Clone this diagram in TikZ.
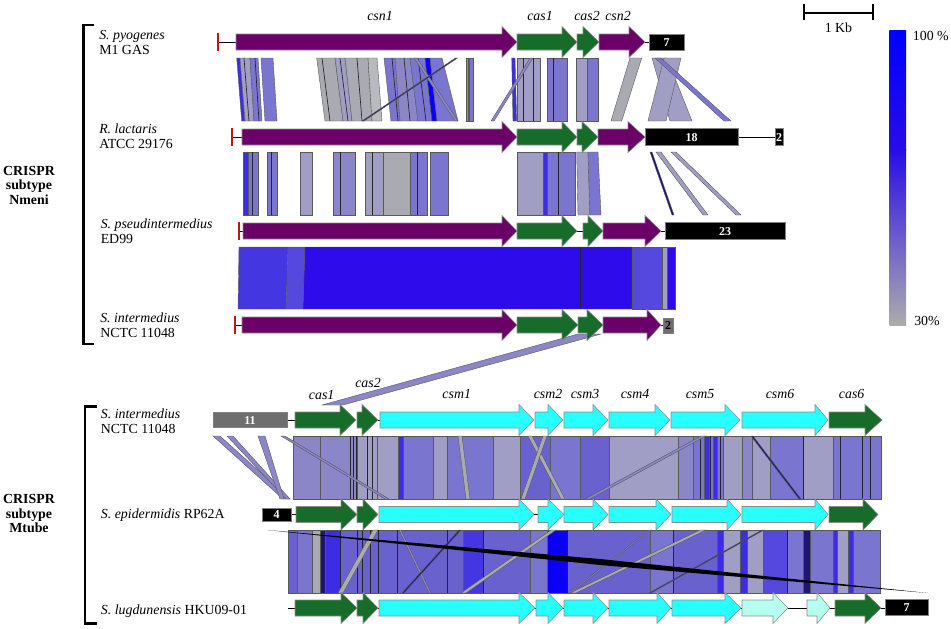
\documentclass[tikz,border=0pt]{standalone}
\usepackage{fontspec}
\setmainfont{Liberation Serif}
\definecolor{gpurple}{RGB}{106,0,104}
\definecolor{ggreen}{RGB}{22,108,40}
\definecolor{gcyan}{RGB}{40,255,255}
\definecolor{glcyan}{RGB}{180,255,240}
\definecolor{gred}{RGB}{200,20,20}
\definecolor{boxgray}{RGB}{110,110,110}
\definecolor{lav}{RGB}{138,134,200}
\definecolor{lav2}{RGB}{122,118,208}
\definecolor{lavg}{RGB}{160,158,196}
\definecolor{gry}{RGB}{170,170,178}
\definecolor{gryl}{RGB}{185,185,192}
\definecolor{blu}{RGB}{60,45,228}
\definecolor{deep}{RGB}{46,11,235}
\definecolor{pb}{RGB}{105,98,206}
\definecolor{bright}{RGB}{10,0,250}
\definecolor{navy}{RGB}{30,20,120}
\definecolor{rA}{RGB}{68,55,225}
\definecolor{rB}{RGB}{85,72,222}
\definecolor{legmid}{RGB}{40,12,232}
\definecolor{leggray}{RGB}{172,172,172}
\newcommand\genearr[5]{\filldraw[genestyle,fill=#1] (#2,#5-8) -- (#3,#5-8) -- (#3,#5-15.5) -- (#4,#5) -- (#3,#5+15.5) -- (#3,#5+8) -- (#2,#5+8) -- cycle;}
\newcommand\bn[5]{\filldraw[bandstyle,fill=#1] (#2,\BandTop) -- (#3,\BandTop) -- (#5,\BandBot) -- (#4,\BandBot) -- cycle;}
\newcommand\st[3]{\filldraw[bandstyle,fill=#1] (#2,\BandTop) rectangle (#3,\BandBot);}
\newcommand\dl[1]{\draw[black!85,line width=0.5pt] (#1,\BandTop) -- (#1,\BandBot);}
\newcommand\slantline[2]{\draw[black!85,line width=0.5pt] (#1,\BandTop) -- (#2,\BandBot);}
\newcommand\redbar[2]{\draw[gred,line width=2pt] (#1,#2-9) -- (#1,#2+9);}
\begin{document}
\begin{tikzpicture}[x=0.75pt,y=-0.75pt,
  genestyle/.style={draw=black!45,line width=0.4pt},
  bandstyle/.style={draw=black!65,line width=0.3pt},
  backbone/.style={draw=black,line width=0.7pt},
  lab/.style={inner sep=0pt,anchor=base west,font=\fontsize{10.4}{11}\selectfont},
  crl/.style={inner sep=0pt,anchor=base,font=\fontsize{10.4}{11}\selectfont\bfseries},
  gl/.style={inner sep=0pt,anchor=base,font=\fontsize{10.4}{11}\selectfont\itshape},
  numw/.style={inner sep=0pt,text=white,font=\fontsize{9}{9}\selectfont\bfseries},
  numk/.style={inner sep=0pt,text=black,font=\fontsize{9}{9}\selectfont\bfseries},
  boxstyle/.style={draw=black!50,line width=0.4pt},
  bracket/.style={draw=black,line width=2.2pt}]
\useasboundingbox (0,0) rectangle (951,629);

% ---------------- brackets and group labels
\draw[bracket] (94,25) -- (83.3,25) -- (83.3,344) -- (94,344);
\draw[bracket] (96.7,406.7) -- (85,406.7) -- (85,623.3) -- (96.7,623.3);
\node[crl] (c1a) at (29,175) {CRISPR};
\node[crl] (c1b) at (29,189.5) {subtype};
\node[crl] (c1c) at (29,204) {Nmeni};
\node[crl] (c2a) at (29,503.5) {CRISPR};
\node[crl] (c2b) at (29,518) {subtype};
\node[crl] (c2c) at (29,532.5) {Mtube};

% ---------------- strain labels
\node[lab] (l1a) at (99,39.5) {\textit{S. pyogenes}};
\node[lab] (l1b) at (99,54) {M1 GAS};
\node[lab] (l2a) at (99,133.5) {\textit{R. lactaris}};
\node[lab] (l2b) at (99,148) {ATCC 29176};
\node[lab] (l3a) at (100.5,228.5) {\textit{S. pseudintermedius}};
\node[lab] (l3b) at (100.5,243) {ED99};
\node[lab] (l4a) at (100,322.5) {\textit{S. intermedius}};
\node[lab] (l4b) at (100,337) {NCTC 11048};
\node[lab] (l5a) at (100.7,418.5) {\textit{S. intermedius}};
\node[lab] (l5b) at (100.7,433) {NCTC 11048};
\node[lab] (l6) at (100.7,518.5) {\textit{S. epidermidis} RP62A};
\node[lab] (l7) at (100.7,614) {\textit{S. lugdunensis} HKU09-01};

% ---------------- gene labels
\node[gl] (g1) at (380,20.5) {csn1};
\node[gl] (g2) at (540,20.5) {cas1};
\node[gl] (g3) at (587,20.5) {cas2};
\node[gl] (g4) at (618,20.5) {csn2};
\node[gl] (h1) at (321.7,399.5) {cas1};
\node[gl] (h2) at (368,387) {cas2};
\node[gl] (h3) at (456.7,398.5) {csm1};
\node[gl] (h4) at (548,398.5) {csm2};
\node[gl] (h5) at (585,398.5) {csm3};
\node[gl] (h6) at (635,398.5) {csm4};
\node[gl] (h7) at (700,398.5) {csm5};
\node[gl] (h8) at (780,398.5) {csm6};
\node[gl] (h9) at (851.7,398.5) {cas6};

% ---------------- band 1-2
\def\BandTop{58}\def\BandBot{121}
\bn{blu}{236.7}{240}{241.7}{245}
\bn{lavg}{240}{250}{245}{254}
\bn{lav2}{250}{258}{254}{262}
\bn{lav2}{261}{273}{265}{277}
\slantline{244}{249}\slantline{255}{259}
\bn{gry}{316.7}{335}{325}{343}
\bn{lavg}{335}{345}{343}{352}
\bn{gry}{345}{368}{352}{372}
\bn{gryl}{368}{377}{372}{382}
\slantline{322}{330}\slantline{340}{348}\slantline{357}{362}
\bn{lav2}{384}{395}{391}{400}
\bn{lav}{395}{410}{400}{418}
\bn{lav2}{410}{425}{418}{432}
\bn{bright}{425}{430}{432}{437}
\bn{lav2}{430}{442}{437}{458}
\slantline{392}{398}\slantline{404}{410}\slantline{418}{426}
\bn{lav}{414}{417}{455}{458}
\bn{navy}{455.5}{457.5}{362}{364}
\bn{lav}{466}{468}{466}{468}
\bn{lav2}{469}{473}{469}{473}
\bn{blu}{511.7}{515}{513}{516.7}
\st{lavg}{516.7}{540}
\dl{523}\dl{533}
\bn{lav}{530}{533}{491}{494}
\st{lav2}{546.7}{566.7}
\dl{553}
\st{lavg}{576}{586.7}
\st{lav2}{586.7}{598.3}
\bn{gry}{630}{641.7}{611}{621.7}
\bn{lavg}{652}{667}{670}{692}
\bn{lavg}{664}{681}{648}{666}
\bn{lav2}{655}{661}{724}{731}

% ---------------- band 2-3
\def\BandTop{152}\def\BandBot{215}
\st{blu}{243}{248}
\st{lav2}{248}{258}
\dl{252}
\st{lav2}{266.7}{276.7}
\dl{271}
\st{lavg}{300}{311.7}
\st{lav}{333}{355}
\dl{340}
\st{lavg}{365}{383}
\dl{372}
\st{gry}{383}{410}
\st{lav2}{410}{427}
\dl{417}
\st{lav2}{430}{448}
\st{lavg}{516.7}{543}
\st{blu}{543}{547}
\st{lav2}{547}{575}
\dl{558}
\bn{lavg}{576.7}{588}{578}{590}
\bn{lav2}{588}{598}{590}{601}
\bn{navy}{650}{652}{672}{674}
\bn{lavg}{656}{661}{703}{708}
\bn{lavg}{671}{676}{736}{741}

% ---------------- band 3-4
\def\BandTop{247}\def\BandBot{309}
\bn{rA}{239}{288}{238}{286}
\bn{rB}{288}{305}{286}{303}
\bn{deep}{305}{632}{303}{632}
\st{rB}{632}{662}
\st{lavg}{662}{667}
\st{deep}{667}{675}
\dl{580}

% ---------------- band 5-6
\def\BandTop{436}\def\BandBot{499}
\st{lav}{293}{881}
\st{lav}{320}{350}
\st{lavg}{356.7}{376.7}
\st{lavg}{376.7}{398}
\st{blu}{398}{403}
\st{lav2}{403}{433}
\st{lavg}{433}{447}
\st{lav2}{447}{493}
\st{lavg}{493}{520}
\st{pb}{520}{550}
\st{lav2}{550}{580}
\st{pb}{580}{609}
\st{lavg}{609}{678}
\st{lav}{678}{693}
\st{lav2}{693}{723}
\st{blu}{704}{709}
\st{blu}{713}{717}
\st{lavg}{723}{742}
\st{lav}{742}{752}
\st{lavg}{752}{770}
\st{lav2}{770}{803}
\st{lavg}{803}{833}
\st{lav2}{833}{881}
\dl{350}\dl{353}\dl{356}\dl{367}\dl{372}\dl{700}\dl{710}\dl{720}\dl{803}\dl{840}\dl{862}\dl{870}
\bn{lav}{213}{220}{283}{290}
\bn{lav}{227}{233}{286}{290}
\bn{lav}{258}{265}{280}{284}
\bn{lav}{281}{285}{385}{389}
\bn{gry}{458}{462}{466}{470}
\bn{gry}{528}{532}{561}{565}
\bn{gry}{543}{547}{521}{525}
\bn{lav}{701}{706}{585}{590}
\bn{navy}{751}{753}{799}{801}

% ---------------- band 6-7
\def\BandTop{530}\def\BandBot{593}
\st{pb}{288}{880}
\st{lav2}{297}{312}
\st{gry}{312}{320}
\st{navy}{320}{325}
\st{blu}{325}{340}
\st{rA}{463}{483}
\st{lav2}{530}{547}
\st{bright}{547}{567}
\st{lav2}{650}{673}
\st{blu}{717}{723}
\st{lavg}{723}{740}
\st{blu}{740}{747}
\st{lavg}{747}{763}
\st{rB}{763}{787}
\st{lav2}{787}{803}
\st{navy}{803}{810}
\st{lav2}{810}{833}
\st{blu}{833}{837}
\st{lavg}{837}{848}
\st{blu}{848}{853}
\st{lav2}{853}{880}
\dl{340}\dl{357}\dl{362}\dl{370}\dl{378}\dl{397}\dl{447}\dl{483}\dl{567}\dl{673}\dl{787}
\bn{gry}{373}{378}{338}{343}
\bn{lav}{399}{401}{429}{431}
\bn{navy}{459}{461}{402}{404}
\bn{gry}{551}{556}{461}{466}
\bn{lav}{649}{651}{569}{571}
\bn{gry}{700}{706}{570}{576}
\bn{navy}{762}{764}{649}{651}
\fill[black] (267,530) -- (600,559) -- (928,593) -- (600,565) -- cycle;

% ---------------- long link between the two groups
\filldraw[bandstyle,fill=lav] (578,334) -- (601,334) -- (343,405) -- (322,405) -- cycle;

% ---------------- track 1: S. pyogenes
\draw[backbone] (218,42) -- (649,42);
\redbar{218}{42}
\genearr{gpurple}{236}{502}{517}{42}
\genearr{ggreen}{517}{562}{577}{42}
\genearr{ggreen}{577}{583}{599}{42}
\genearr{gpurple}{599}{629}{645}{42}
\filldraw[boxstyle,fill=black] (649,34) rectangle (684,50.7);
\node[numw] (n1) at (666.5,42.3) {7};

% ---------------- track 2: R. lactaris
\draw[backbone] (232,137) -- (775,137);
\redbar{232}{137}
\genearr{gpurple}{242}{502}{517}{137}
\genearr{ggreen}{517}{562}{577}{137}
\genearr{ggreen}{577}{582}{598}{137}
\genearr{gpurple}{598}{628}{645}{137}
\filldraw[boxstyle,fill=black] (645,128.5) rectangle (738,145.5);
\node[numw] (n2) at (691.5,137.3) {18};
\filldraw[boxstyle,fill=black] (775,128.5) rectangle (783,145.5);
\node[numw] (n3) at (779,137.3) {2};

% ---------------- track 3: S. pseudintermedius
\draw[backbone] (239,231) -- (665,231);
\redbar{239}{231}
\genearr{gpurple}{243}{502}{517}{231}
\genearr{ggreen}{517}{562}{577}{231}
\genearr{ggreen}{583}{588}{603}{231}
\genearr{gpurple}{603}{645}{661}{231}
\filldraw[boxstyle,fill=black] (665,222.5) rectangle (785,239.5);
\node[numw] (n4) at (725,231.3) {23};

% ---------------- track 4: S. intermedius
\draw[backbone] (235,325) -- (663,325);
\redbar{235}{325}
\genearr{gpurple}{242}{502}{517}{325}
\genearr{ggreen}{517}{562}{578}{325}
\genearr{ggreen}{578}{587}{603}{325}
\genearr{gpurple}{603}{647}{661}{325}
\filldraw[boxstyle,fill=boxgray] (663,318) rectangle (673,333);
\node[numk] (n5) at (668,325.5) {2};

% ---------------- track 5: S. intermedius (Mtube)
\draw[backbone] (287,420) -- (295,420);
\filldraw[boxstyle,fill=boxgray] (213,412.3) rectangle (287,427.7);
\node[numw] (n6) at (250,420.3) {11};
\genearr{ggreen}{295}{340}{356}{420}
\genearr{ggreen}{357}{362}{378}{420}
\draw[backbone] (378,420) -- (380,420);
\genearr{gcyan}{380}{519}{534}{420}
\genearr{gcyan}{535}{548}{563}{420}
\genearr{gcyan}{564}{593}{608}{420}
\genearr{gcyan}{609}{655}{670}{420}
\genearr{gcyan}{671}{725}{740}{420}
\genearr{gcyan}{742}{815}{828}{420}
\genearr{ggreen}{829}{865}{882}{420}

% ---------------- track 6: S. epidermidis
\draw[backbone] (291,514.5) -- (296,514.5);
\draw[backbone] (534,514.5) -- (538,514.5);
\filldraw[boxstyle,fill=black] (262,508.3) rectangle (291,521);
\node[numw] (n7) at (276.5,514.8) {4};
\genearr{ggreen}{296}{341}{357}{514.5}
\genearr{ggreen}{357}{363}{378}{514.5}
\genearr{gcyan}{379}{519}{534}{514.5}
\genearr{gcyan}{538}{548}{564}{514.5}
\genearr{gcyan}{564}{593}{608}{514.5}
\genearr{gcyan}{609}{656}{671}{514.5}
\genearr{gcyan}{672}{727}{741}{514.5}
\genearr{gcyan}{742}{815}{828}{514.5}
\genearr{ggreen}{829}{863}{878}{514.5}

% ---------------- track 7: S. lugdunensis
\draw[backbone] (288,608) -- (885,608);
\genearr{ggreen}{295}{341}{357}{608}
\genearr{ggreen}{357}{363}{378}{608}
\genearr{gcyan}{379}{519}{535}{608}
\genearr{gcyan}{536}{548}{563}{608}
\genearr{gcyan}{564}{593}{608}{608}
\genearr{gcyan}{609}{657}{671}{608}
\genearr{gcyan}{672}{725}{741}{608}
\genearr{glcyan}{742}{773}{788}{608}
\genearr{glcyan}{807}{817}{830}{608}
\genearr{ggreen}{835}{865}{881}{608}
\filldraw[boxstyle,fill=black] (885,599.3) rectangle (928,615.7);
\node[numw] (n8) at (906.5,607.8) {7};

% ---------------- scale bar
\draw[black,line width=1.2pt] (804,12.7) -- (873,12.7);
\draw[black,line width=1.2pt] (804,4) -- (804,19.5);
\draw[black,line width=1.2pt] (873,4) -- (873,19.5);
\node[inner sep=0pt,anchor=base,font=\fontsize{10.4}{11}\selectfont] (kb) at (838.5,32) {1 Kb};

% ---------------- identity legend
\shade[top color=blue,bottom color=legmid] (889.3,30.7) rectangle (906,150);
\shade[top color=legmid,bottom color=leggray] (889.3,149.5) rectangle (906,325);
\node[inner sep=0pt,anchor=base west,font=\fontsize{10.4}{11}\selectfont] (p100) at (912.7,40) {100 \%};
\node[inner sep=0pt,anchor=base west,font=\fontsize{10.4}{11}\selectfont] (p30) at (914,325) {30\%};
\end{tikzpicture}
\end{document}
